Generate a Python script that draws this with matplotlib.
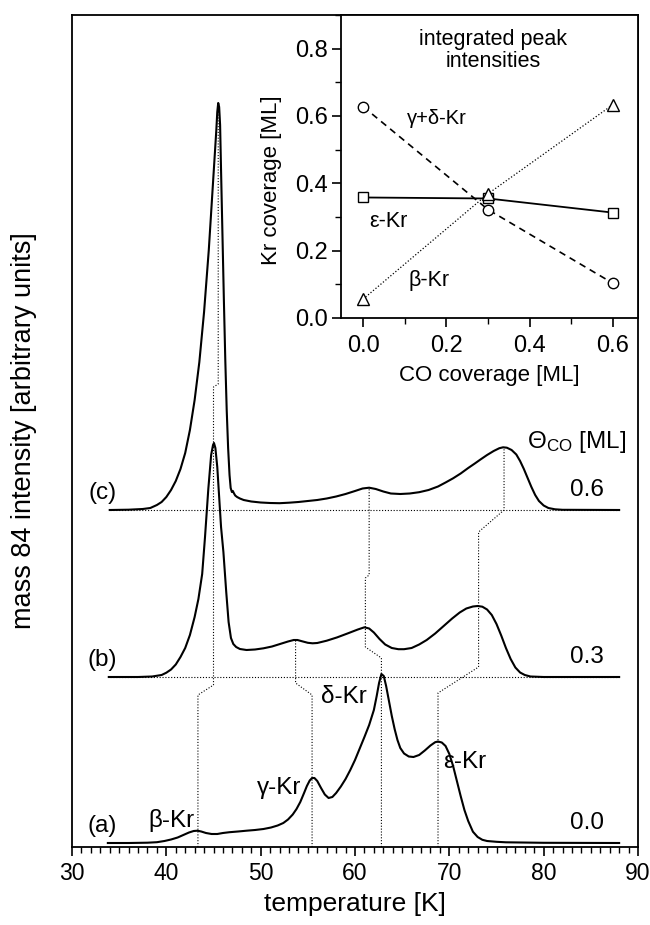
import matplotlib.pyplot as plt
from matplotlib.ticker import MultipleLocator

plt.rcParams['font.family'] = ['Liberation Sans', 'DejaVu Sans']
plt.rcParams['mathtext.fontset'] = 'custom'
plt.rcParams['mathtext.rm'] = 'Liberation Sans'

# TPD traces: temperature [K] and height above own baseline (arb. units)
t_a = [33.8, 36.0, 38.0, 39.0, 39.8, 40.5, 41.2, 41.8, 42.4, 42.9, 43.3, 43.7, 44.2, 44.8, 45.4,
       46.0, 46.7, 47.6, 48.5, 49.4, 50.3, 51.1, 51.8, 52.4, 52.9, 53.4, 53.8, 54.2, 54.6, 54.9,
       55.2, 55.45, 55.7, 56.0, 56.4, 56.8, 57.2, 57.6, 58.0, 58.5, 59.0, 59.5, 60.0, 60.5, 61.0,
       61.5, 62.0, 62.3, 62.55, 62.8, 63.05, 63.3, 63.6, 63.9, 64.2, 64.5, 64.8, 65.2, 65.7, 66.2,
       66.8, 67.4, 68.0, 68.5, 68.8, 69.2, 69.6, 70.0, 70.4, 70.8, 71.2, 71.6, 72.0, 72.5, 73.0,
       73.5, 74.0, 75.0, 76.0, 80.0, 88.0]
i_a = [0, 0, 0.3, 0.8, 2, 3.5, 5.5, 8, 10.5, 12, 12.3, 11.5, 10, 9, 9,
       10, 10.8, 11.5, 12.3, 13, 14, 15.5, 17.5, 20, 23.5, 28.5, 34, 41, 50, 57,
       62.5, 65, 65, 62, 55, 48.5, 45, 46, 50, 56.5, 64, 73, 83, 94.5, 106,
       118, 133, 147, 160, 169, 167, 157, 142, 127, 114, 103, 95, 89.5, 86.5, 86,
       88, 92.5, 97.5, 100.8, 101.5, 100.5, 97, 89, 77, 62, 47, 33, 22, 11.3, 6,
       3.2, 2, 1.2, 0.7, 0.2, 0]

t_b = [33.9, 37.0, 38.5, 39.5, 40.0, 40.5, 41.0, 41.5, 42.0, 42.5, 43.0, 43.4, 43.8, 44.1, 44.45,
       44.75, 44.95, 45.05, 45.2, 45.4, 45.6, 45.8, 46.05, 46.35, 46.6, 46.85, 47.1, 47.4, 47.8, 48.5,
       49.4, 50.3, 51.2, 52.05, 52.9, 53.5, 53.9, 54.4, 55.0, 55.5, 56.0, 57.0, 58.1, 59.2, 60.3,
       61.0, 61.5, 62.0, 62.6, 63.2, 63.9, 64.6, 65.2, 66.0, 66.8, 67.6, 68.5, 69.4, 70.3, 71.1,
       71.8, 72.5, 73.0, 73.5, 74.0, 74.5, 75.0, 75.5, 76.0, 76.5, 77.0, 77.5, 78.0, 78.6, 80.0, 88.0]
i_b = [0, 0, 0.5, 2, 4.3, 7.5, 12.5, 20, 29, 42, 60, 78, 103, 140, 188,
       222, 232, 234, 229, 210, 180, 150, 125, 85, 55, 39, 33, 30, 28, 27,
       27.5, 28.7, 30.5, 33, 35.5, 37, 37, 35.7, 34.2, 33.7, 34, 36.3, 39.6, 43.5, 47.5,
       49.7, 48.5, 44.5, 38, 32.5, 29, 27.8, 27.8, 29, 32.5, 37, 43.5, 51, 58.5, 64.5,
       68.5, 70.5, 71, 70.3, 67.5, 62, 53, 41.5, 29, 18, 9.5, 4.5, 2, 0.5, 0, 0]

t_c = [34.0, 36.0, 37.5, 38.3, 39.0, 39.5, 40.0, 40.5, 41.0, 41.5, 42.0, 42.5, 43.0, 43.5, 44.0,
       44.5, 45.0, 45.3, 45.4, 45.5, 45.6, 45.7, 45.8, 45.95, 46.1, 46.25, 46.4, 46.55, 46.7, 46.82,
       46.95, 47.05, 47.15, 47.3, 47.5, 47.8, 48.2, 49.0, 50.0, 51.0, 52.0, 53.0, 54.0, 55.0, 56.0,
       57.0, 58.0, 59.0, 60.0, 60.8, 61.5, 62.2, 63.0, 63.8, 64.8, 65.8, 66.8, 67.8, 68.8, 69.6,
       70.4, 71.2, 72.0, 72.7, 73.3, 74.0, 74.7, 75.3, 75.7, 76.1, 76.6, 77.1, 77.5, 77.9, 78.3,
       78.7, 79.1, 79.5, 80.0, 80.5, 81.2, 82.0, 88.0]
i_c = [0, 0.3, 1, 2, 5, 8, 13, 20, 29, 41, 57, 80, 110, 148, 198,
       260, 335, 380, 398, 407, 403, 385, 340, 275, 210, 150, 100, 62, 35, 22,
       18, 19, 17, 14.5, 13, 11.5, 10, 8.5, 7.5, 7, 6.8, 7.3, 8, 9, 10,
       11.5, 13.5, 16, 19, 21.5, 22.3, 21, 18.5, 16.5, 16, 16.5, 17.8, 20, 23.5, 27.5,
       31.7, 36.5, 42, 46.5, 50.5, 55, 59, 61.8, 62.7, 62.3, 60, 55.5, 49, 41, 32,
       23, 15, 9, 4.5, 2, 0.7, 0.2, 0]

offsets = [4, 170, 337]
curve_labels = ['(a)', '(b)', '(c)']
theta_labels = ['0.0', '0.3', '0.6']

# dotted peak-tracking guides (temperature, height on plot)
guides_t = [[43.35, 43.35, 45.0, 45.0, 45.5, 45.5],
            [55.45, 55.45, 53.7, 53.7],
            [62.8, 62.8, 61.1, 61.1, 61.5, 61.5],
            [68.8, 68.8, 73.1, 73.1, 75.8, 75.8]]
guides_y = [[0, 152, 162, 460, 463, 744],
            [0, 152, 164, 207],
            [0, 189, 200, 269, 272, 359],
            [0, 154, 180, 315, 337, 400]]

# inset: integrated peak intensities
co_cov = [0.0, 0.3, 0.6]
kr_gd = [0.628, 0.322, 0.103]
kr_eps = [0.358, 0.355, 0.313]
kr_beta = [0.056, 0.369, 0.634]

fig = plt.figure(figsize=(6.5, 9.25), dpi=100)
ax = fig.add_axes([72/650, 78/925, 566/650, 832/925])
ax.set_xlim(30, 90)
ax.set_ylim(0, 832)

dot = (0, (1, 1.6))
for off in offsets[1:]:
    ax.plot([34, 88], [off, off], color='black', lw=0.8, ls=dot)
for gt, gy in zip(guides_t, guides_y):
    ax.plot(gt, gy, color='black', lw=0.8, ls=dot)

for t, i, off in zip([t_a, t_b, t_c], [i_a, i_b, i_c], offsets):
    ax.plot(t, [v + off for v in i], color='black', lw=1.5, solid_joinstyle='round')

fs = 17.5
for lab, th, off in zip(curve_labels, theta_labels, offsets):
    ax.text(33.2, off + 17, lab, fontsize=fs, ha='center', va='center')
    ax.text(84.6, off + 20, th, fontsize=fs, ha='center', va='center')
ax.text(78.2, 405, r'$\mathregular{\Theta_{CO}}$ [ML]', fontsize=fs, ha='left', va='center')
ax.text(40.5, 27, 'β-Kr', fontsize=fs, ha='center', va='center')
ax.text(52.0, 59, 'γ-Kr', fontsize=fs, ha='center', va='center')
ax.text(58.8, 150, 'δ-Kr', fontsize=fs, ha='center', va='center')
ax.text(71.6, 85, 'ε-Kr', fontsize=fs, ha='center', va='center')

ax.set_xticks(range(30, 91, 10))
ax.xaxis.set_minor_locator(MultipleLocator(1))
ax.tick_params(axis='x', which='major', direction='out', length=6.5, width=1.2, labelsize=16.5, pad=4)
ax.tick_params(axis='x', which='minor', direction='out', length=4, width=1.0)
ax.set_yticks([])
ax.set_xlabel('temperature [K]', fontsize=19)
ax.xaxis.set_label_coords(0.5, -0.054)
ax.set_ylabel('mass 84 intensity [arbitrary units]', fontsize=19.5)
ax.yaxis.set_label_coords(-0.062, 0.5)
for s in ax.spines.values():
    s.set_linewidth(1.3)

ax2 = fig.add_axes([341/650, 607/925, 297/650, 303/925])
ax2.set_xlim(-0.053, 0.66)
ax2.set_ylim(0, 0.9)
ax2.plot(co_cov, kr_gd, color='black', lw=1.2, ls=(0, (4, 3)), marker='o', ms=7.5,
         mfc='white', mec='black', mew=1.0)
ax2.plot(co_cov, kr_eps, color='black', lw=1.3, ls='-', marker='s', ms=7,
         mfc='white', mec='black', mew=1.0)
ax2.plot(co_cov, kr_beta, color='black', lw=0.9, ls=dot, marker='^', ms=8.5,
         mfc='white', mec='black', mew=1.0)

fs2 = 15.5
ax2.text(0.312, 0.794, 'integrated peak\nintensities', fontsize=fs2, ha='center', va='center',
         linespacing=1.1)
ax2.text(0.178, 0.593, 'γ+δ-Kr', fontsize=fs2 - 1, ha='center', va='center')
ax2.text(0.06, 0.287, 'ε-Kr', fontsize=fs2, ha='center', va='center')
ax2.text(0.158, 0.11, 'β-Kr', fontsize=fs2, ha='center', va='center')

ax2.set_xticks([0.0, 0.2, 0.4, 0.6])
ax2.set_yticks([0.0, 0.2, 0.4, 0.6, 0.8])
ax2.xaxis.set_minor_locator(MultipleLocator(0.1))
ax2.yaxis.set_minor_locator(MultipleLocator(0.1))
ax2.tick_params(which='major', direction='out', length=6.5, width=1.2, labelsize=17, pad=3)
ax2.tick_params(which='minor', direction='out', length=4, width=1.0)
ax2.tick_params(axis='x', which='major', pad=6)
ax2.set_xticklabels(['0.0', '0.2', '0.4', '0.6'])
ax2.set_yticklabels(['0.0', '0.2', '0.4', '0.6', '0.8'])
ax2.set_xlabel('CO coverage [ML]', fontsize=16)
ax2.xaxis.set_label_coords(0.5, -0.155)
ax2.set_ylabel('Kr coverage [ML]', fontsize=16)
ax2.yaxis.set_label_coords(-0.2, 0.455)
for s in ax2.spines.values():
    s.set_linewidth(1.3)

fig.savefig('out.png', dpi=100)
